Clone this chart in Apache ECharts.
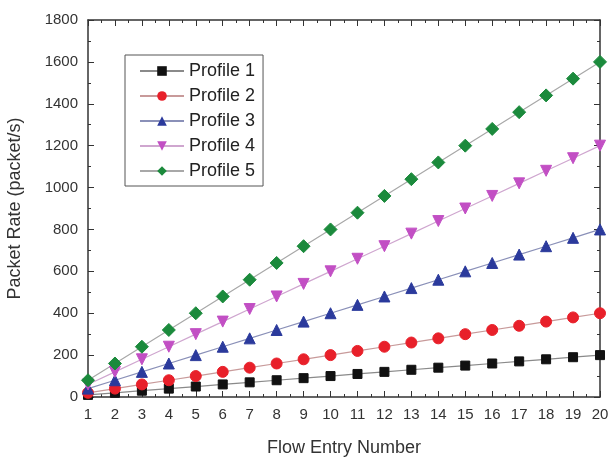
<!DOCTYPE html>
<html>
<head>
<meta charset="utf-8">
<script src="https://cdn.jsdelivr.net/npm/echarts@6/dist/echarts.min.js"></script>
<style>
  html, body { margin: 0; padding: 0; background: #fff; }
  #chart { width: 610px; height: 457px; }
</style>
</head>
<body>
<div id="chart"></div>
<script>
const flowEntries = [1, 2, 3, 4, 5, 6, 7, 8, 9, 10, 11, 12, 13, 14, 15, 16, 17, 18, 19, 20]
const profile1 = [10, 20, 30, 40, 50, 60, 70, 80, 90, 100, 110, 120, 130, 140, 150, 160, 170, 180, 190, 200]
const profile2 = [20, 40, 60, 80, 100, 120, 140, 160, 180, 200, 220, 240, 260, 280, 300, 320, 340, 360, 380, 400]
const profile3 = [40, 80, 120, 160, 200, 240, 280, 320, 360, 400, 440, 480, 520, 560, 600, 640, 680, 720, 760, 800]
const profile4 = [60, 120, 180, 240, 300, 360, 420, 480, 540, 600, 660, 720, 780, 840, 900, 960, 1020, 1080, 1140, 1200]
const profile5 = [80, 160, 240, 320, 400, 480, 560, 640, 720, 800, 880, 960, 1040, 1120, 1200, 1280, 1360, 1440, 1520, 1600]

const seriesDefs = [
  { name: 'Profile 1', values: profile1, color: '#111111', line: '#8a8a8a', symbol: 'rect', size: 9 },
  { name: 'Profile 2', values: profile2, color: '#e8202a', line: '#c89a9a', symbol: 'circle', size: 11 },
  { name: 'Profile 3', values: profile3, color: '#2b3a9c', line: '#8a90b8', symbol: 'triangle', size: 11 },
  { name: 'Profile 4', values: profile4, color: '#c24fc4', line: '#cfa6cf', symbol: 'triangle', size: 11, rotate: 180 },
  { name: 'Profile 5', values: profile5, color: '#1b8a3c', line: '#a8a8a8', symbol: 'diamond', size: 13 }
]

const axisLine = { show: true, onZero: false, lineStyle: { color: '#333', width: 1.5 } }
const tick = { inside: true, length: 6, lineStyle: { color: '#333' } }
const minor = { show: true, splitNumber: 2, length: 3, lineStyle: { color: '#333' } }
const fontFamily = 'Liberation Sans, Arial, sans-serif'

let myChart = echarts.init(document.getElementById('chart'))
myChart.setOption({
  animation: false,
  textStyle: { fontFamily: fontFamily },
  grid: { left: 88, right: 10, top: 20, bottom: 60, containLabel: false, outerBoundsMode: 'none' },
  legend: {
    orient: 'vertical',
    left: 125,
    top: 55,
    padding: [7, 8, 6, 14],
    itemGap: 7,
    itemWidth: 44,
    itemHeight: 12,
    borderColor: '#555',
    borderWidth: 1,
    textStyle: { fontSize: 18, color: '#222', fontFamily: fontFamily },
    data: seriesDefs.map(s => s.name)
  },
  xAxis: [
    {
      type: 'value',
      min: 1,
      max: 20,
      interval: 1,
      name: 'Flow Entry Number',
      nameLocation: 'middle',
      nameGap: 42,
      nameTextStyle: { fontSize: 18, color: '#333' },
      axisLine: axisLine,
      axisTick: tick,
      minorTick: minor,
      axisLabel: { fontSize: 15, color: '#333', margin: 10 },
      splitLine: { show: false }
    },
    {
      type: 'value',
      position: 'top',
      min: 1,
      max: 20,
      interval: 1,
      axisLine: axisLine,
      axisTick: tick,
      minorTick: minor,
      axisLabel: { show: false },
      splitLine: { show: false }
    }
  ],
  yAxis: [
    {
      type: 'value',
      min: 0,
      max: 1800,
      interval: 200,
      name: 'Packet Rate (packet/s)',
      nameLocation: 'middle',
      nameGap: 64,
      nameTextStyle: { fontSize: 18, color: '#333' },
      axisLine: axisLine,
      axisTick: tick,
      minorTick: minor,
      axisLabel: { fontSize: 15, color: '#333', margin: 10, formatter: v => String(v) },
      splitLine: { show: false }
    },
    {
      type: 'value',
      position: 'right',
      min: 0,
      max: 1800,
      interval: 200,
      axisLine: axisLine,
      axisTick: tick,
      minorTick: minor,
      axisLabel: { show: false },
      splitLine: { show: false }
    }
  ],
  series: seriesDefs.map(s => ({
    name: s.name,
    type: 'line',
    symbol: s.symbol,
    symbolSize: s.size,
    symbolRotate: s.rotate || 0,
    showAllSymbol: true,
    itemStyle: { color: s.color, borderColor: s.color },
    lineStyle: { color: s.line, width: 1.2 },
    data: flowEntries.map((x, i) => [x, s.values[i]])
  }))
})
</script>
</body>
</html>
